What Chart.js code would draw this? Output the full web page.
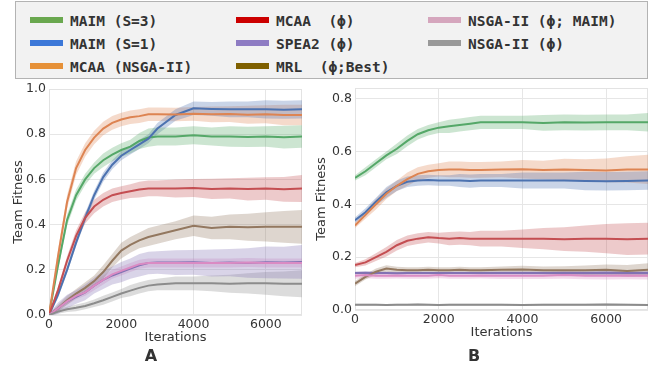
<!DOCTYPE html>
<html>
<head>
<meta charset="utf-8">
<script src="https://cdn.jsdelivr.net/npm/chart.js@4.4.0/dist/chart.umd.min.js"></script>
<style>
  html, body { margin:0; padding:0; background:#fff; }
  body { width:654px; height:369px; position:relative; overflow:hidden; }
  #legend { position:absolute; left:15px; top:1px; width:631px; height:76px; background:#f2f2f2; border:1px solid #b3b3b3; }
  .item { position:absolute; height:16px; }
  .sw { position:absolute; left:0; top:5px; width:33px; height:6px; }
  .lbl { position:absolute; left:40px; top:0px; font:bold 14.5px "DejaVu Sans Mono", monospace; color:#333; white-space:pre; line-height:18px; }
  #wrapA { position:absolute; left:0; top:80px; width:320px; height:289px; }
  #wrapB { position:absolute; left:300px; top:80px; width:354px; height:289px; }
</style>
</head>
<body>
<div id="legend"></div>
<div id="wrapA"><canvas id="chartA" width="320" height="289"></canvas></div>
<div id="wrapB"><canvas id="chartB" width="354" height="289"></canvas></div>
<script>
// legend (shared by both panels)
var legendLabels = ["MAIM (S=3)", "MAIM (S=1)", "MCAA (NSGA-II)", "MCAA  (\u03d5)", "SPEA2 (\u03d5)", "MRL  (\u03d5;Best)", "NSGA-II (\u03d5; MAIM)", "NSGA-II (\u03d5)"];
var legendColors = ["#6aa84f", "#3c78d8", "#e69138", "#cc0000", "#8e7cc3", "#7f6000", "#d5a6bd", "#999999"];

// line colours in the panels
var lineColors = ["#55a868", "#4c72b0", "#dd8452", "#c44e52", "#8172b3", "#937860", "#da8bc3", "#8c8c8c"];

var iters = [0, 250, 500, 750, 1000, 1250, 1500, 1750, 2000, 2250, 2500, 2750, 3000, 3500, 4000, 4500, 5000, 5500, 6000, 6500, 7000];
var xTicks = [0, 2000, 4000, 6000];
var yTicksA = [0, 0.2, 0.4, 0.6, 0.8, 1.0];
var yTicksB = [0, 0.2, 0.4, 0.6, 0.8];

// ---- panel A : mean and band half width ----
var aMaim3    = [0, 0.22, 0.42, 0.53, 0.60, 0.65, 0.685, 0.71, 0.73, 0.745, 0.77, 0.785, 0.79, 0.79, 0.795, 0.79, 0.79, 0.788, 0.79, 0.787, 0.79];
var aMaim3Sd  = [0.01, 0.02, 0.025, 0.025, 0.025, 0.025, 0.03, 0.03, 0.03, 0.03, 0.035, 0.04, 0.04, 0.04, 0.04, 0.04, 0.045, 0.045, 0.045, 0.05, 0.05];
var aMaim1    = [0, 0.09, 0.20, 0.32, 0.43, 0.53, 0.61, 0.665, 0.705, 0.73, 0.755, 0.78, 0.825, 0.885, 0.915, 0.912, 0.91, 0.91, 0.91, 0.908, 0.91];
var aMaim1Sd  = [0.005, 0.015, 0.015, 0.015, 0.02, 0.02, 0.02, 0.02, 0.02, 0.02, 0.02, 0.02, 0.025, 0.025, 0.03, 0.03, 0.035, 0.035, 0.04, 0.04, 0.04];
var aMcaaNsga   = [0, 0.26, 0.50, 0.65, 0.73, 0.785, 0.825, 0.85, 0.865, 0.875, 0.88, 0.888, 0.888, 0.887, 0.89, 0.888, 0.889, 0.886, 0.888, 0.885, 0.885];
var aMcaaNsgaSd = [0.01, 0.03, 0.03, 0.03, 0.03, 0.03, 0.03, 0.03, 0.03, 0.03, 0.03, 0.03, 0.03, 0.03, 0.03, 0.035, 0.035, 0.04, 0.04, 0.045, 0.045];
var aMcaaPhi    = [0, 0.11, 0.24, 0.35, 0.43, 0.48, 0.51, 0.53, 0.54, 0.548, 0.555, 0.56, 0.56, 0.56, 0.562, 0.558, 0.56, 0.557, 0.56, 0.556, 0.56];
var aMcaaPhiSd  = [0.005, 0.015, 0.02, 0.025, 0.025, 0.03, 0.03, 0.03, 0.03, 0.03, 0.035, 0.035, 0.035, 0.04, 0.04, 0.045, 0.045, 0.05, 0.05, 0.055, 0.06];
var aSpea2    = [0, 0.03, 0.06, 0.08, 0.10, 0.13, 0.155, 0.175, 0.19, 0.205, 0.22, 0.23, 0.232, 0.232, 0.233, 0.23, 0.232, 0.23, 0.233, 0.232, 0.235];
var aSpea2Sd  = [0.005, 0.025, 0.03, 0.03, 0.035, 0.035, 0.04, 0.04, 0.045, 0.045, 0.05, 0.05, 0.05, 0.055, 0.055, 0.06, 0.06, 0.065, 0.07, 0.07, 0.075];
var aMrl      = [0, 0.03, 0.065, 0.095, 0.12, 0.15, 0.19, 0.24, 0.285, 0.31, 0.33, 0.345, 0.355, 0.375, 0.395, 0.385, 0.39, 0.388, 0.39, 0.39, 0.39];
var aMrlSd    = [0.005, 0.015, 0.02, 0.02, 0.025, 0.025, 0.03, 0.03, 0.035, 0.035, 0.035, 0.04, 0.04, 0.04, 0.045, 0.05, 0.055, 0.06, 0.065, 0.07, 0.075];
var aNsgaMaim   = [0, 0.03, 0.06, 0.085, 0.10, 0.13, 0.155, 0.18, 0.195, 0.21, 0.225, 0.23, 0.23, 0.23, 0.23, 0.23, 0.23, 0.232, 0.23, 0.23, 0.23];
var aNsgaMaimSd = [0.005, 0.01, 0.015, 0.015, 0.015, 0.02, 0.02, 0.02, 0.02, 0.02, 0.02, 0.02, 0.02, 0.02, 0.02, 0.02, 0.02, 0.02, 0.02, 0.02, 0.02];
var aNsgaPhi    = [0, 0.015, 0.025, 0.032, 0.04, 0.052, 0.065, 0.08, 0.095, 0.108, 0.12, 0.13, 0.135, 0.14, 0.14, 0.14, 0.138, 0.14, 0.14, 0.138, 0.138];
var aNsgaPhiSd  = [0.003, 0.01, 0.012, 0.015, 0.015, 0.017, 0.02, 0.02, 0.02, 0.025, 0.025, 0.025, 0.025, 0.03, 0.03, 0.035, 0.04, 0.045, 0.05, 0.055, 0.06];

// ---- panel B ----
var bMaim3    = [0.50, 0.525, 0.555, 0.585, 0.61, 0.64, 0.665, 0.68, 0.69, 0.695, 0.70, 0.705, 0.71, 0.71, 0.71, 0.708, 0.71, 0.709, 0.71, 0.71, 0.71];
var bMaim3Sd  = [0.01, 0.015, 0.015, 0.015, 0.02, 0.02, 0.02, 0.02, 0.02, 0.025, 0.025, 0.025, 0.025, 0.025, 0.025, 0.03, 0.03, 0.03, 0.03, 0.03, 0.035];
var bMaim1    = [0.34, 0.37, 0.41, 0.445, 0.47, 0.485, 0.49, 0.492, 0.49, 0.49, 0.49, 0.488, 0.49, 0.49, 0.49, 0.49, 0.49, 0.488, 0.487, 0.488, 0.49];
var bMaim1Sd  = [0.01, 0.015, 0.015, 0.02, 0.02, 0.02, 0.02, 0.02, 0.02, 0.02, 0.025, 0.025, 0.025, 0.025, 0.03, 0.03, 0.03, 0.035, 0.035, 0.035, 0.035];
var bMcaaNsga   = [0.32, 0.36, 0.40, 0.44, 0.47, 0.495, 0.515, 0.525, 0.53, 0.532, 0.532, 0.53, 0.53, 0.532, 0.533, 0.53, 0.532, 0.53, 0.528, 0.532, 0.532];
var bMcaaNsgaSd = [0.01, 0.015, 0.02, 0.02, 0.02, 0.025, 0.025, 0.025, 0.025, 0.03, 0.03, 0.03, 0.03, 0.03, 0.035, 0.035, 0.04, 0.04, 0.045, 0.05, 0.055];
var bMcaaPhi    = [0.17, 0.18, 0.20, 0.22, 0.245, 0.262, 0.27, 0.275, 0.272, 0.27, 0.272, 0.27, 0.27, 0.27, 0.27, 0.27, 0.268, 0.27, 0.27, 0.268, 0.27];
var bMcaaPhiSd  = [0.008, 0.012, 0.015, 0.018, 0.02, 0.02, 0.02, 0.02, 0.02, 0.025, 0.025, 0.025, 0.03, 0.03, 0.035, 0.04, 0.045, 0.05, 0.055, 0.06, 0.06];
var bSpea2    = [0.14, 0.141, 0.14, 0.14, 0.139, 0.14, 0.14, 0.14, 0.14, 0.14, 0.14, 0.14, 0.14, 0.14, 0.14, 0.14, 0.14, 0.14, 0.141, 0.14, 0.14];
var bSpea2Sd  = [0.006, 0.006, 0.006, 0.006, 0.006, 0.006, 0.006, 0.006, 0.006, 0.006, 0.006, 0.006, 0.006, 0.007, 0.007, 0.007, 0.008, 0.008, 0.008, 0.008, 0.008];
var bMrl      = [0.10, 0.125, 0.145, 0.157, 0.152, 0.15, 0.15, 0.152, 0.15, 0.15, 0.152, 0.15, 0.15, 0.152, 0.153, 0.15, 0.15, 0.15, 0.152, 0.148, 0.152];
var bMrlSd    = [0.01, 0.01, 0.012, 0.012, 0.012, 0.012, 0.012, 0.012, 0.012, 0.012, 0.012, 0.012, 0.012, 0.013, 0.014, 0.015, 0.016, 0.018, 0.02, 0.022, 0.025];
var bNsgaMaim   = [0.13, 0.132, 0.13, 0.13, 0.131, 0.13, 0.13, 0.13, 0.132, 0.13, 0.13, 0.13, 0.131, 0.13, 0.13, 0.13, 0.132, 0.13, 0.13, 0.131, 0.13];
var bNsgaMaimSd = [0.012, 0.012, 0.012, 0.012, 0.012, 0.012, 0.012, 0.012, 0.012, 0.012, 0.012, 0.012, 0.012, 0.013, 0.013, 0.013, 0.014, 0.014, 0.015, 0.015, 0.015];
var bNsgaPhi    = [0.02, 0.02, 0.02, 0.019, 0.02, 0.02, 0.021, 0.02, 0.019, 0.02, 0.02, 0.02, 0.02, 0.02, 0.019, 0.02, 0.02, 0.02, 0.021, 0.02, 0.019];
var bNsgaPhiSd  = [0.004, 0.004, 0.004, 0.004, 0.004, 0.004, 0.004, 0.004, 0.004, 0.004, 0.004, 0.004, 0.004, 0.004, 0.004, 0.004, 0.004, 0.004, 0.004, 0.004, 0.004];

var seriesA = [[aMaim3, aMaim3Sd], [aMaim1, aMaim1Sd], [aMcaaNsga, aMcaaNsgaSd], [aMcaaPhi, aMcaaPhiSd], [aSpea2, aSpea2Sd], [aMrl, aMrlSd], [aNsgaMaim, aNsgaMaimSd], [aNsgaPhi, aNsgaPhiSd]];
var seriesB = [[bMaim3, bMaim3Sd], [bMaim1, bMaim1Sd], [bMcaaNsga, bMcaaNsgaSd], [bMcaaPhi, bMcaaPhiSd], [bSpea2, bSpea2Sd], [bMrl, bMrlSd], [bNsgaMaim, bNsgaMaimSd], [bNsgaPhi, bNsgaPhiSd]];

// build html legend
var legendEl = document.getElementById('legend');
var colX = [14, 220, 412], rowY = [10, 33, 56];
legendLabels.forEach(function (label, i) {
  var col = Math.floor(i / 3), row = i % 3;
  var it = document.createElement('div');
  it.className = 'item';
  it.style.left = colX[col] + 'px';
  it.style.top = rowY[row] + 'px';
  it.innerHTML = '<div class="sw" style="background:' + legendColors[i] + '"></div><div class="lbl"></div>';
  it.querySelector('.lbl').textContent = label;
  legendEl.appendChild(it);
});

function hex2rgba(hex, a) {
  var n = parseInt(hex.slice(1), 16);
  return 'rgba(' + (n >> 16) + ',' + ((n >> 8) & 255) + ',' + (n & 255) + ',' + a + ')';
}

function buildDatasets(series) {
  var sets = [];
  series.forEach(function (s, i) {
    var mean = s[0], sd = s[1], col = lineColors[i];
    sets.push({
      data: iters.map(function (x, k) { return {x: x, y: mean[k] - sd[k]}; }),
      borderWidth: 0, pointRadius: 0, fill: false, order: 100
    });
    sets.push({
      data: iters.map(function (x, k) { return {x: x, y: mean[k] + sd[k]}; }),
      borderWidth: 0, pointRadius: 0, fill: '-1', backgroundColor: hex2rgba(col, 0.3), order: 100
    });
  });
  series.forEach(function (s, i) {
    sets.push({
      data: iters.map(function (x, k) { return {x: x, y: s[0][k]}; }),
      borderColor: lineColors[i], borderWidth: 2, pointRadius: 0, fill: false, order: 20 - i
    });
  });
  return sets;
}

var framePlugin = {
  id: 'frame',
  beforeDatasetsDraw: function (chart) {
    var c = chart.ctx, a = chart.chartArea;
    c.save();
    c.strokeStyle = '#e3e3e3';
    c.lineWidth = 1;
    c.strokeRect(a.left + 0.5, a.top + 0.5, a.width - 1, a.height - 1);
    c.restore();
  }
};

function makeOptions(cfg) {
  return {
    responsive: false,
    animation: false,
    layout: { padding: { top: cfg.padTop, right: cfg.padRight, left: 0, bottom: 0 } },
    plugins: {
      legend: { display: false },
      tooltip: { enabled: false },
      title: {
        display: true, position: 'bottom', text: cfg.letter, color: '#333',
        font: { family: 'DejaVu Sans', size: 16, weight: 'bold' },
        padding: { top: cfg.letterPadTop, bottom: 2.4 }
      }
    },
    scales: {
      x: {
        type: 'linear', min: 0, max: 7000,
        afterBuildTicks: function (s) { s.ticks = xTicks.map(function (v) { return {value: v}; }); },
        afterFit: function (s) { s.height = 30; s.paddingLeft = 0; s.paddingRight = 0; },
        ticks: { color: '#333', padding: 2, maxRotation: 0, font: { family: 'DejaVu Sans', size: 12.5 },
          callback: function (v) { return String(v); } },
        grid: { color: '#e6e6e6', drawTicks: false },
        border: { display: false },
        title: { display: true, text: 'Iterations', color: '#333', padding: 0, font: { family: 'DejaVu Sans', size: 13 } }
      },
      y: {
        min: 0, max: cfg.yMax,
        afterBuildTicks: function (s) { s.ticks = cfg.yTicks.map(function (v) { return {value: v}; }); },
        afterFit: function (s) { s.width = cfg.yWidth; s.paddingTop = 0; s.paddingBottom = 0; },
        ticks: { color: '#333', padding: 3, font: { family: 'DejaVu Sans', size: 12.5 },
          callback: function (v) { return v.toFixed(1); } },
        grid: { color: '#e6e6e6', drawTicks: false },
        border: { display: false },
        title: { display: true, text: 'Team Fitness', color: '#333', padding: { top: cfg.yTitlePad, bottom: 0 },
          font: { family: 'DejaVu Sans', size: 13 } }
      }
    }
  };
}

new Chart(document.getElementById('chartA').getContext('2d'), {
  type: 'line',
  data: { datasets: buildDatasets(seriesA) },
  options: makeOptions({ yMax: 1.0, yTicks: yTicksA, letter: 'A', yWidth: 49, padTop: 9, padRight: 18, letterPadTop: 2.4, yTitlePad: 11.2 }),
  plugins: [framePlugin]
});

new Chart(document.getElementById('chartB').getContext('2d'), {
  type: 'line',
  data: { datasets: buildDatasets(seriesB) },
  options: makeOptions({ yMax: 0.84, yTicks: yTicksB, letter: 'B', yWidth: 55, padTop: 8, padRight: 6, letterPadTop: 7.4, yTitlePad: 14.2 }),
  plugins: [framePlugin]
});
</script>
</body>
</html>
